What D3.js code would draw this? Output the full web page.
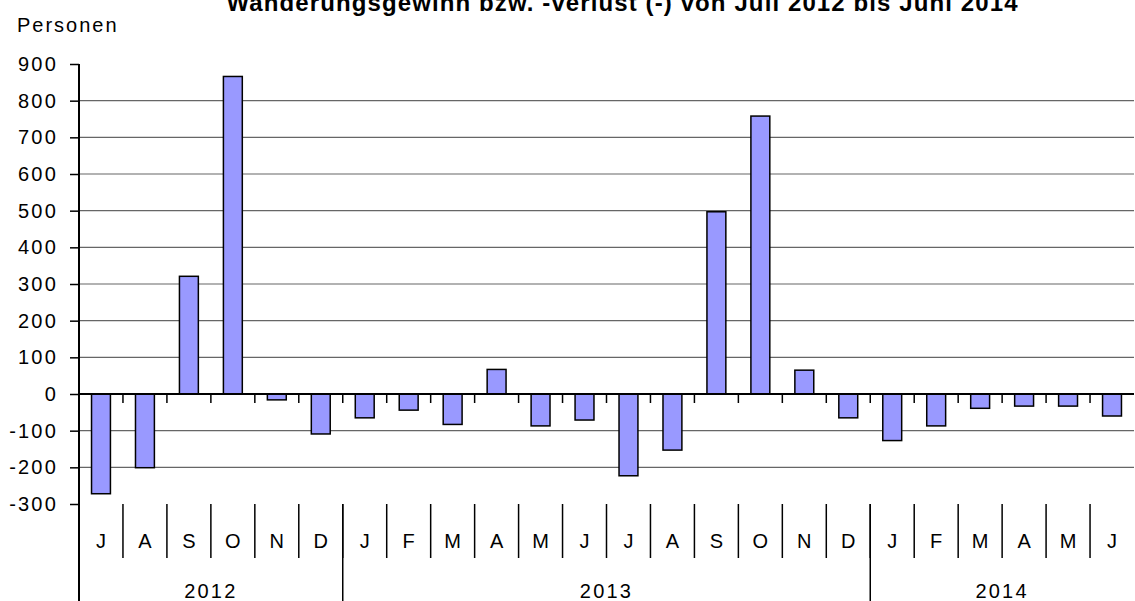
<!DOCTYPE html>
<html><head><meta charset="utf-8">
<script src="https://cdn.jsdelivr.net/npm/d3@7"></script>
<style>body{margin:0;background:#fff}svg{display:block}text{font-family:"Liberation Sans",Arial,sans-serif;fill:#000}</style>
</head><body>
<script>
const months = ["J","A","S","O","N","D","J","F","M","A","M","J","J","A","S","O","N","D","J","F","M","A","M","J"];
const years = ["2012","2013","2014"];
const yearStarts = [0, 6, 18];
const values = [-272,-201,321,866,-16,-109,-65,-44,-83,67,-87,-71,-223,-153,497,758,65,-65,-127,-87,-39,-33,-33,-60];
const yTicks = [-300,-200,-100,0,100,200,300,400,500,600,700,800,900];
const title = "Wanderungsgewinn bzw. -verlust (-) von Juli 2012 bis Juni 2014";
const yLabel = "Personen";

(function(){
const W = 1135, H = 601;
const svg = d3.select("body").append("svg").attr("width", W).attr("height", H);
const pL = 79, pR = 1134, pT = 64, pB = 504;
const idx = d3.range(months.length);
const xb = d3.scaleBand().domain(idx).range([pL, pR]).paddingInner(0.57).paddingOuter(0.285);
const xs = d3.scaleBand().domain(idx).range([pL, pR]);
const y = d3.scaleLinear().domain([-300, 900]).range([pB, pT]);

// gridlines
svg.append("g").selectAll("line").data(yTicks.filter(t => t >= -200 && t <= 800 && t !== 0)).join("line")
  .attr("x1", pL).attr("x2", pR).attr("y1", d => y(d)).attr("y2", d => y(d))
  .attr("stroke", "#666").attr("stroke-width", 1.2);

// bars
svg.append("g").selectAll("rect").data(values).join("rect")
  .attr("x", (d, i) => xb(i)).attr("width", xb.bandwidth())
  .attr("y", d => y(Math.max(0, d))).attr("height", d => Math.abs(y(d) - y(0)))
  .attr("fill", "#9999ff").attr("stroke", "#000").attr("stroke-width", 1.5);

// zero line
svg.append("line").attr("x1", pL).attr("x2", pR).attr("y1", y(0)).attr("y2", y(0))
  .attr("stroke", "#000").attr("stroke-width", 2);
svg.append("g").selectAll("line").data(idx.slice(1)).join("line")
  .attr("x1", i => xs(i)).attr("x2", i => xs(i)).attr("y1", y(0)).attr("y2", y(0) + 9)
  .attr("stroke", "#000").attr("stroke-width", 1.5);

// y axis
const yAxis = d3.axisLeft(y).tickValues(yTicks).tickSize(9).tickPadding(12).tickFormat(d => String(d));
const ga = svg.append("g").attr("transform", `translate(${pL},0)`).call(yAxis);
ga.select(".domain").remove();
ga.selectAll(".tick line").attr("stroke", "#000").attr("stroke-width", 1.5);
ga.selectAll(".tick text").attr("font-size", 20).attr("letter-spacing", "2.2px")
  .attr("font-family", "Liberation Sans, Arial, sans-serif").attr("fill", "#000");
svg.append("line").attr("x1", pL).attr("x2", pL).attr("y1", pT).attr("y2", H)
  .attr("stroke", "#000").attr("stroke-width", 2);

// month separators and labels
svg.append("g").selectAll("line").data(idx.slice(1)).join("line")
  .attr("x1", i => xs(i)).attr("x2", i => xs(i)).attr("y1", pB).attr("y2", 558)
  .attr("stroke", "#000").attr("stroke-width", 1.5);
svg.append("g").selectAll("text").data(months).join("text")
  .attr("x", (d, i) => xs(i) + xs.bandwidth() / 2).attr("y", 548)
  .attr("text-anchor", "middle").attr("font-size", 20).text(d => d);

// year separators and labels
svg.append("g").selectAll("line").data(yearStarts.slice(1)).join("line")
  .attr("x1", i => xs(i)).attr("x2", i => xs(i)).attr("y1", pB).attr("y2", H)
  .attr("stroke", "#000").attr("stroke-width", 1.5);
svg.append("g").selectAll("text").data(years).join("text")
  .attr("x", (d, k) => (xs(yearStarts[k]) + (k < 2 ? xs(yearStarts[k + 1]) : pR)) / 2).attr("y", 598)
  .attr("text-anchor", "middle").attr("font-size", 20).attr("letter-spacing", "2.2px").text(d => d);

// title and y label
svg.append("text").attr("x", 622).attr("y", 11).attr("text-anchor", "middle")
  .attr("font-size", 24).attr("font-weight", "bold").attr("textLength", 791).attr("lengthAdjust", "spacing").text(title);
svg.append("text").attr("x", 17).attr("y", 32).attr("font-size", 20).attr("letter-spacing", "2px").text(yLabel);
})();
</script>
</body></html>
